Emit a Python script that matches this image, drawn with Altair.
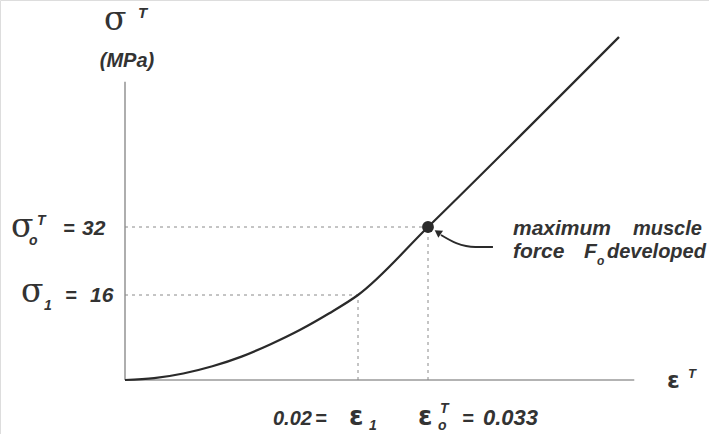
import altair as alt
import pandas as pd

# Tendon stress-strain curve: non-linear toe region, then a linear region
strain = [0, 0.0025, 0.005, 0.0075, 0.01, 0.0125, 0.015, 0.0175, 0.02, 0.033, 0.058]
stress = [0, 0.34, 1.22, 2.58, 4.4, 6.74, 9.41, 12.52, 16, 32, 63]

# Marked points: end of the toe region (eps_1, sigma_1) and max muscle force (eps_o, sigma_o)
mark_strain = [0.02, 0.033]
mark_stress = [16, 32]

# Arrow pointing to the maximum muscle force point
arrow_strain = [0.0415, 0.0392, 0.0367, 0.0347]
arrow_stress = [27.3, 27.3, 28.2, 30.1]
arrow_tip_strain = [0.0344]
arrow_tip_stress = [30.6]

# Extent of the drawn axes
axis_end_strain = 0.06
axis_end_stress = 55.7

# Schematic (piecewise-linear) scales so that the labelled values sit where the sketch puts them
X_SCALE = alt.Scale(domain=[0, 0.02, 0.033, 0.058], range=[125, 358, 428, 619], nice=False, zero=False)
Y_SCALE = alt.Scale(domain=[0, 16, 32, 63], range=[380, 295, 227, 37], nice=False, zero=False)

INK = "#2a2a2a"
TEXT = "#333333"
SANS = "Liberation Sans"
SERIF = "DejaVu Serif"


def xq(field):
    return alt.X(field, type="quantitative", scale=X_SCALE, axis=None)


def yq(field):
    return alt.Y(field, type="quantitative", scale=Y_SCALE, axis=None)


curve_df = pd.DataFrame({"strain": strain, "stress": stress})
marks_df = pd.DataFrame({"strain": mark_strain, "stress": mark_stress, "zero": [0.0, 0.0]})
arrow_df = pd.DataFrame({"strain": arrow_strain, "stress": arrow_stress})
tip_df = pd.DataFrame({"strain": arrow_tip_strain, "stress": arrow_tip_stress})
axes_df = pd.DataFrame({
    "x": [0.0, 0.0], "x2": [axis_end_strain, 0.0],
    "y": [0.0, 0.0], "y2": [0.0, axis_end_stress],
})

axes = alt.Chart(axes_df).mark_rule(color="#9a9a9a", strokeWidth=1.6).encode(
    x=xq("x"), x2="x2", y=yq("y"), y2="y2"
)

guide_h = alt.Chart(marks_df).mark_rule(color="#8a8a8a", strokeWidth=1, strokeDash=[3, 4]).encode(
    x=xq("zero"), x2="strain", y=yq("stress")
)
guide_v = alt.Chart(marks_df).mark_rule(color="#8a8a8a", strokeWidth=1, strokeDash=[3, 4]).encode(
    x=xq("strain"), y=yq("zero"), y2="stress"
)

curve = alt.Chart(curve_df).mark_line(color=INK, strokeWidth=2.2, interpolate="monotone").encode(
    x=xq("strain"), y=yq("stress"), order="strain:Q"
)

max_point = alt.Chart(marks_df).transform_filter(alt.datum.stress == 32).mark_point(
    filled=True, color=INK, size=140, opacity=1
).encode(x=xq("strain"), y=yq("stress"))

arrow_line = alt.Chart(arrow_df).mark_line(color=INK, strokeWidth=1.8, interpolate="monotone").encode(
    x=xq("strain"), y=yq("stress"), order=alt.Order("strain:Q", sort="descending")
)
arrow_head = alt.Chart(tip_df).mark_point(
    shape="triangle", filled=True, color=INK, size=70, angle=304, opacity=1
).encode(x=xq("strain"), y=yq("stress"))


def label(text, x, y, size=20, font=SANS, weight="bold", style="italic", align="left",
          baseline="alphabetic", color=TEXT):
    return alt.Chart(alt.Data(values=[{}])).mark_text(
        text=text, font=font, fontSize=size, fontWeight=weight, fontStyle=style,
        align=align, baseline=baseline, color=color,
    ).encode(x=alt.value(x), y=alt.value(y))


def greek(text, x, y, size=33):
    return label(text, x, y, size=size, font=SERIF, weight="normal", style="normal")


def epsilon(x, y, size=26):
    return label("ε", x, y, size=size, font="DejaVu Sans", weight="bold", style="normal")


texts = [
    # y-axis title
    greek("σ", 104, 30),
    label("T", 138, 18, size=15),
    label("(MPa)", 127, 67, size=20, align="center"),
    # sigma_o^T = 32
    greek("σ", 11, 237),
    label("o", 29, 245, size=14),
    label("T", 37, 225, size=14),
    label("=", 63, 235),
    label("32", 82, 235, size=21),
    # sigma_1 = 16
    greek("σ", 21, 302),
    label("1", 44, 310, size=14),
    label("=", 65, 302),
    label("16", 90, 302, size=21),
    # eps_1 = 0.02
    label("0.02", 273, 425),
    label("=", 315, 425),
    epsilon(349, 425),
    label("1", 369, 430, size=14),
    # eps_o^T = 0.033
    epsilon(418, 425),
    label("o", 438, 430, size=14),
    label("T", 440, 413, size=14),
    label("=", 462, 425),
    label("0.033", 483, 425, size=22),
    # x-axis title
    epsilon(667, 388, size=23),
    label("T", 688, 378, size=13),
    # annotation
    label("maximum", 513, 235, size=21),
    label("muscle", 633, 235, size=20),
    label("force", 513, 258, size=21),
    label("F", 584, 258, size=21),
    label("o", 597, 265, size=12),
    label("developed", 607, 258),
]

chart = alt.layer(
    axes, guide_h, guide_v, curve, arrow_line, arrow_head, max_point, *texts
).properties(
    width=709, height=434, padding=0,
    autosize=alt.AutoSizeParams(type="none"),
).configure_view(stroke=None).configure(background="white")

chart.save("out.html", embed_options={"renderer": "svg", "actions": False})
